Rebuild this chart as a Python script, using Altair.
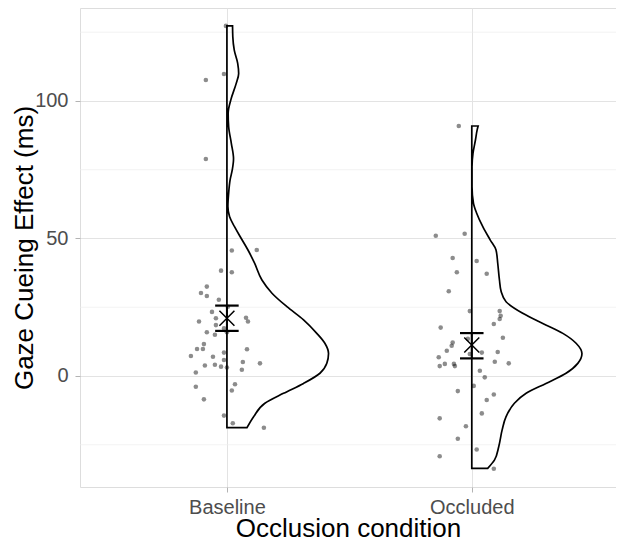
import altair as alt
import pandas as pd

conditions = ["Baseline", "Occluded"]

# individual participant effects (ms) and horizontal jitter (fraction of category spacing)
baseline_values = [127.3, 109.8, 107.6, 78.9, 45.6, 45.8, 38.3, 37.7, 32.5, 30.2, 29.1, 27.7,
                   25.2, 23.3, 21.0, 19.8, 21.2, 19.8, 18.5, 17.3, 15.9, 15.0, 15.9, 11.6,
                   9.8, 9.8, 7.3, 7.0, 8.5, 9.7, 5.8, 3.8, 4.1, 3.4, 3.1, 5.1, 4.6, 2.3, 1.3,
                   -3.9, -3.0, -5.3, -8.5, -14.4, -17.2, -18.8]
baseline_jitter = [-0.004, -0.012, -0.086, -0.086, 0.020, 0.122, -0.024, 0.020, -0.082, -0.106,
                   -0.082, -0.033, 0.004, -0.061, -0.045, -0.114, 0.078, 0.086, -0.045, -0.012,
                   -0.082, -0.049, 0.0, -0.094, -0.122, -0.098, -0.147, -0.057, -0.012, 0.082,
                   -0.012, -0.090, -0.049, -0.024, 0.0, 0.065, 0.135, 0.061, -0.127, -0.127,
                   0.033, 0.020, -0.094, -0.012, 0.024, 0.151]
occluded_values = [90.9, 51.0, 51.7, 42.9, 41.8, 37.7, 37.2, 30.8, 23.6, 23.6, 21.9, 20.7, 18.9,
                   17.6, 13.9, 13.5, 12.2, 11.0, 9.2, 8.0, 8.5, 8.7, 6.8, 4.4, 3.6, 4.4, 3.6,
                   5.2, 4.6, 1.9, -0.5, -3.6, -5.5, -6.7, -8.7, -13.6, -15.4, -18.3, -22.8,
                   -26.7, -29.2, -33.7]
occluded_jitter = [-0.053, -0.147, -0.029, -0.078, 0.020, -0.061, 0.061, -0.094, -0.008, 0.114,
                   0.118, 0.114, 0.090, -0.127, 0.127, -0.016, -0.078, -0.082, -0.102, -0.008,
                   0.041, 0.106, -0.135, -0.110, -0.131, -0.073, -0.069, 0.094, 0.151, 0.033,
                   0.053, 0.008, -0.057, 0.090, 0.061, 0.041, -0.131, -0.024, -0.057, 0.020,
                   -0.131, 0.090]

# half-violin outlines: effect value and density half-width (fraction of category spacing)
baseline_outline_y = [-18.8, -14.8, -9.9, -6.3, -2.7, 1.0, 4.6, 8.2, 11.9, 15.5, 20.4, 25.2,
                      30.1, 34.9, 41.0, 45.8, 50.1, 54.3, 57.9, 61.6, 66.4, 71.3, 75.0, 79.0,
                      84.6, 90.7, 95.5, 100.4, 106.4, 110.0, 113.7, 118.5, 123.4, 127.3]
baseline_outline_w = [0.082, 0.109, 0.155, 0.231, 0.313, 0.380, 0.408, 0.415, 0.400, 0.367,
                      0.313, 0.245, 0.184, 0.143, 0.113, 0.086, 0.058, 0.031, 0.011, 0.004,
                      0.007, 0.013, 0.022, 0.027, 0.018, 0.007, 0.005, 0.016, 0.038, 0.048,
                      0.044, 0.030, 0.024, 0.023]
occluded_outline_y = [-33.6, -30.5, -25.7, -19.6, -14.8, -9.9, -6.3, -2.7, 1.0, 4.6, 8.2, 11.9,
                      15.5, 19.1, 22.8, 27.0, 30.7, 34.9, 41.0, 45.8, 49.5, 54.3, 59.2, 62.8,
                      68.8, 76.1, 81.0, 85.8, 89.5, 90.9]
occluded_outline_w = [0.065, 0.093, 0.110, 0.124, 0.140, 0.174, 0.222, 0.303, 0.385, 0.433,
                      0.450, 0.426, 0.372, 0.290, 0.208, 0.140, 0.120, 0.113, 0.106, 0.099,
                      0.075, 0.045, 0.020, 0.007, 0.001, 0.001, 0.005, 0.015, 0.022, 0.026]

# mean and interval
means = [21.0, 11.3]
ci_low = [16.4, 6.4]
ci_high = [25.6, 15.6]

y_ticks = [0, 50, 100]
y_minor = [-25, 25, 75, 125]

CAP = 0.048
FONT = "Liberation Sans"

# ---- tables ----
pts_rows = []
for i, (vals, jit) in enumerate([(baseline_values, baseline_jitter),
                                 (occluded_values, occluded_jitter)]):
    for v, j in zip(vals, jit):
        pts_rows.append({"cond": conditions[i], "xpos": i + 1 + j, "v": v})
pts = pd.DataFrame(pts_rows)

vio_rows = []
for i, (ys, ws) in enumerate([(baseline_outline_y, baseline_outline_w),
                              (occluded_outline_y, occluded_outline_w)]):
    for y, w in zip(ys, ws):
        vio_rows.append({"cond": conditions[i], "x0": i + 1, "x1": i + 1 + w, "v": y})
vio = pd.DataFrame(vio_rows)

summ = pd.DataFrame({
    "cond": conditions,
    "xc": [i + 1 for i in range(len(conditions))],
    "xl": [i + 1 - CAP for i in range(len(conditions))],
    "xr": [i + 1 + CAP for i in range(len(conditions))],
    "mean": means, "lo": ci_low, "hi": ci_high,
})
minor = pd.DataFrame({"g": y_minor})

label_expr = " : ".join(
    [f"datum.value == {i + 1} ? '{c}'" for i, c in enumerate(conditions)]) + " : ''"

x_scale = alt.Scale(domain=[0.4, 2.589], nice=False, zero=False)
y_scale = alt.Scale(domain=[-40.36, 133.8], nice=False, zero=False)

x_axis = alt.Axis(values=[1, 2], labelExpr=label_expr, title="Occlusion condition",
                  grid=True, gridColor="#E3E3E3", gridWidth=1, domain=False,
                  tickColor="#B3B3B3", tickSize=5, tickWidth=1, labelPadding=5,
                  labelFontSize=20, labelColor="#4D4D4D", labelFont=FONT,
                  titleFontSize=26, titleFont=FONT, titleFontWeight="normal",
                  titleColor="#000000", titlePadding=-2)
y_axis = alt.Axis(values=y_ticks, title="Gaze Cueing Effect (ms)",
                  grid=True, gridColor="#E3E3E3", gridWidth=1, domain=False,
                  tickColor="#B3B3B3", tickSize=5, tickWidth=1, labelPadding=7,
                  labelFontSize=20, labelColor="#4D4D4D", labelFont=FONT,
                  titleFontSize=26, titleFont=FONT, titleFontWeight="normal",
                  titleColor="#000000", titleX=-43)


def X(field):
    return alt.X(field, type="quantitative", scale=x_scale, axis=x_axis)


def Y(field):
    return alt.Y(field, type="quantitative", scale=y_scale, axis=y_axis)


minor_grid = alt.Chart(minor).mark_rule(color="#EEEEEE", strokeWidth=0.7).encode(y=Y("g"))

violin = alt.Chart(vio).mark_area(
    orient="horizontal", interpolate="monotone", fill="white", fillOpacity=0,
    stroke="black", strokeWidth=1.7
).encode(y=Y("v"), x=X("x1"), x2=alt.X2("x0"), detail="cond:N")

points = alt.Chart(pts).mark_circle(size=21, color="black", opacity=0.45).encode(
    x=X("xpos"), y=Y("v"))

bar = alt.Chart(summ).mark_rule(color="black", strokeWidth=2).encode(
    x=X("xc"), y=Y("lo"), y2=alt.Y2("hi"))
cap_lo = alt.Chart(summ).mark_rule(color="black", strokeWidth=2.2).encode(
    x=X("xl"), x2=alt.X2("xr"), y=Y("lo"))
cap_hi = alt.Chart(summ).mark_rule(color="black", strokeWidth=2.2).encode(
    x=X("xl"), x2=alt.X2("xr"), y=Y("hi"))
mean_x = alt.Chart(summ).mark_point(
    shape="M-1,-1L1,1M-1,1L1,-1", size=225, filled=False, stroke="black",
    strokeWidth=1.5, opacity=1
).encode(x=X("xc"), y=Y("mean"))

chart = alt.layer(minor_grid, violin, points, bar, cap_lo, cap_hi, mean_x).properties(
    width=536, height=479,
    autosize=alt.AutoSizeParams(type="none"),
    padding={"left": 72, "top": 0, "right": 0, "bottom": 55},
).configure_view(stroke="#B3B3B3", strokeWidth=1.3, fill="white").configure(
    font=FONT, background="white")

chart.save("out.html", embed_options={"renderer": "svg", "actions": False})
